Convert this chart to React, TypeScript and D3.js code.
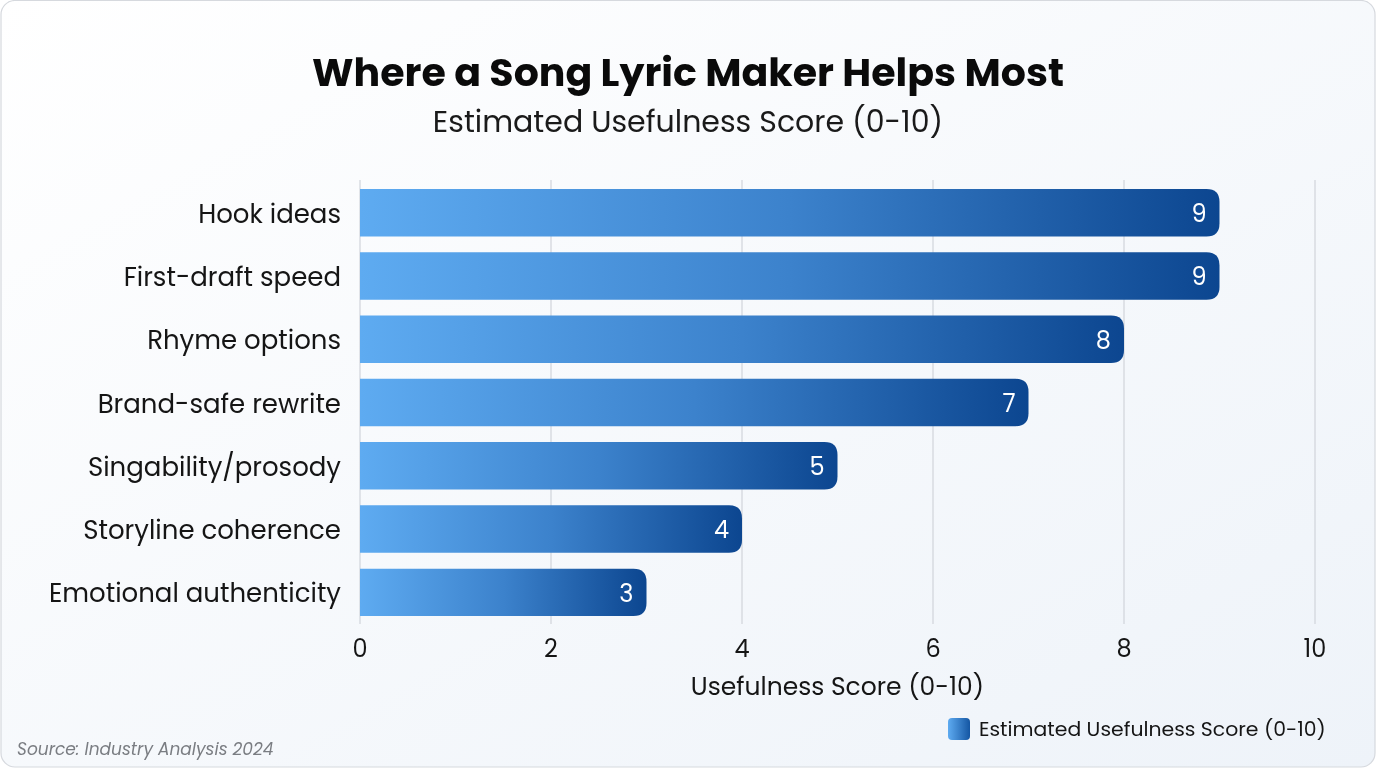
import React from "react";
import * as d3 from "d3";

const categories = [
  "Hook ideas",
  "First-draft speed",
  "Rhyme options",
  "Brand-safe rewrite",
  "Singability/prosody",
  "Storyline coherence",
  "Emotional authenticity",
];
const values = [9, 9, 8, 7, 5, 4, 3];
const xTicks = [0, 2, 4, 6, 8, 10];
const titleText = "Where a Song Lyric Maker Helps Most";
const subtitleText = "Estimated Usefulness Score (0-10)";
const xAxisTitle = "Usefulness Score (0-10)";
const legendLabel = "Estimated Usefulness Score (0-10)";
const sourceText = "Source: Industry Analysis 2024";

const W = 1376;
const H = 768;
const FONT = "Poppins, 'Open Sans', Inter, sans-serif";

function barPath(x0: number, y0: number, w: number, h: number, r: number) {
  const rr = Math.min(r, w / 2, h / 2);
  return `M${x0},${y0} H${x0 + w - rr} Q${x0 + w},${y0} ${x0 + w},${y0 + rr} V${y0 + h - rr} Q${x0 + w},${y0 + h} ${x0 + w - rr},${y0 + h} H${x0} Z`;
}

export default function App() {
  const x = d3.scaleLinear().domain([0, 10]).range([360, 1315]);
  const y = d3.scaleBand<string>().domain(categories).range([181, 624]).paddingInner(0.25).paddingOuter(0.125);
  const bw = y.bandwidth();

  return (
    <svg width={W} height={H} style={{ position: "fixed", left: 0, top: 0 }} fontFamily={FONT}>
      <defs>
        <linearGradient id="bg" x1="0" y1="0" x2="1" y2="1">
          <stop offset="0%" stopColor="#ffffff" />
          <stop offset="100%" stopColor="#eef3f9" />
        </linearGradient>
        {values.map((v, i) => (
          <linearGradient key={i} id={`bar${i}`} gradientUnits="userSpaceOnUse" x1={x(0)} y1="0" x2={x(v)} y2="0">
            <stop offset="0%" stopColor="#5eabf1" />
            <stop offset="50%" stopColor="#3c82cc" />
            <stop offset="100%" stopColor="#0c4690" />
          </linearGradient>
        ))}
        <linearGradient id="leg" x1="0" y1="0" x2="1" y2="0">
          <stop offset="0%" stopColor="#5eabf1" />
          <stop offset="100%" stopColor="#1456a3" />
        </linearGradient>
      </defs>
      <rect x={1} y={0.5} width={W - 2} height={H - 1.5} rx={14} fill="url(#bg)" stroke="#d6d9de" strokeWidth={1.2} />

      <text x={688} y={86} textAnchor="middle" fontSize={39.5} fontWeight={700} fill="#0a0a0a">{titleText}</text>
      <text x={688} y={132} textAnchor="middle" fontSize={30} fill="#1a1a1a">{subtitleText}</text>

      {xTicks.map((t) => (
        <line key={t} x1={x(t)} x2={x(t)} y1={180} y2={624} stroke="#d0d4da" strokeWidth={1.2} />
      ))}

      {categories.map((c, i) => {
        const y0 = y(c)!;
        const w = x(values[i]) - x(0);
        return (
          <g key={c}>
            <path d={barPath(x(0), y0, w, bw, 13)} fill={`url(#bar${i})`} />
            <text x={341} y={y0 + bw / 2 + 1} dy="0.35em" textAnchor="end" fontSize={26} fill="#151515">{c}</text>
            <text x={x(values[i]) - 13} y={y0 + bw / 2 + 1} dy="0.35em" textAnchor="end" fontSize={24} fill="#ffffff">{values[i]}</text>
          </g>
        );
      })}

      {xTicks.map((t) => (
        <text key={t} x={x(t)} y={649} dy="0.35em" textAnchor="middle" fontSize={24} fill="#151515">{t}</text>
      ))}
      <text x={(x(0) + x(10)) / 2} y={686} dy="0.35em" textAnchor="middle" fontSize={25} fill="#151515">{xAxisTitle}</text>

      <rect x={948} y={718} width={22} height={22} rx={4} fill="url(#leg)" />
      <text x={979} y={729} dy="0.35em" fontSize={20.4} fill="#151515">{legendLabel}</text>

      <text x={17} y={749} dy="0.35em" fontSize={17} fontStyle="italic" fill="#7a7d82">{sourceText}</text>
    </svg>
  );
}
